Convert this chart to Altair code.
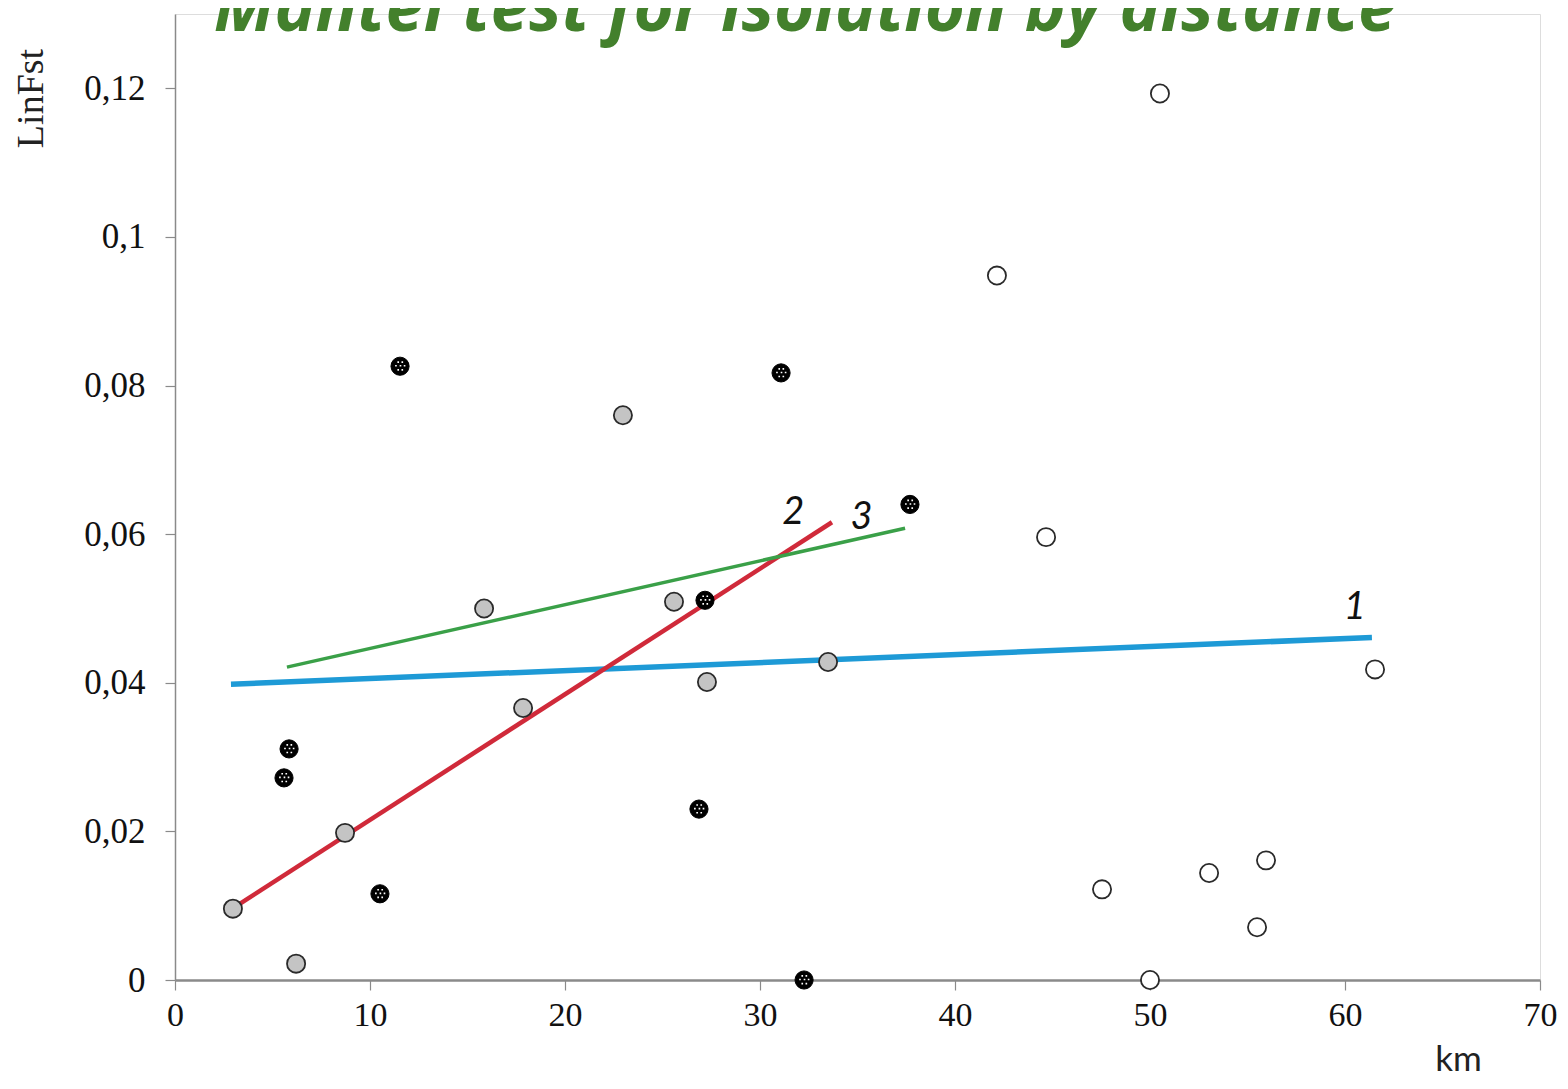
import altair as alt
import pandas as pd

# ---- data ----
black_x = [11.54, 31.08, 37.69, 27.18, 5.85, 5.59, 26.87, 10.51, 32.26]
black_y = [0.0826, 0.0817, 0.0640, 0.0511, 0.0311, 0.0272, 0.0230, 0.0116, 0.0]

gray_x = [2.97, 6.21, 8.72, 15.85, 17.85, 22.97, 25.59, 27.28, 33.49]
gray_y = [0.0096, 0.0022, 0.0198, 0.0500, 0.0366, 0.0760, 0.0509, 0.0401, 0.0428]

white_x = [50.51, 42.15, 44.67, 61.54, 47.54, 53.03, 55.95, 55.49, 50.0]
white_y = [0.1193, 0.0948, 0.0596, 0.0418, 0.0122, 0.0144, 0.0161, 0.0071, 0.0]

line_ids = ["1", "1", "2", "2", "3", "3"]
line_x = [2.87, 61.38, 2.82, 33.69, 5.74, 37.44]
line_y = [0.0398, 0.0461, 0.0094, 0.0616, 0.0421, 0.0608]

label_text = ["1", "2", "3"]
label_x = [60.5, 31.7, 35.2]
label_y = [0.0500, 0.0628, 0.0622]

y_ticks = [0, 0.02, 0.04, 0.06, 0.08, 0.1, 0.12]
x_ticks = [0, 10, 20, 30, 40, 50, 60, 70]

title_text = "Mantel test for isolation by distance"

# ---- tables ----
df_black = pd.DataFrame({"x": black_x, "y": black_y})
df_gray = pd.DataFrame({"x": gray_x, "y": gray_y})
df_white = pd.DataFrame({"x": white_x, "y": white_y})
df_lines = pd.DataFrame({"id": line_ids, "x": line_x, "y": line_y})
df_labels = pd.DataFrame({"t": label_text, "x": label_x, "y": label_y})

W, H = 1365, 966
PT_SIZE = 330

xs = alt.Scale(domain=[0, 70], nice=False, zero=False)
ys = alt.Scale(domain=[0, 0.13], nice=False, zero=False)

x_enc = alt.X(
    "x:Q", scale=xs,
    axis=alt.Axis(
        values=x_ticks, grid=False, title="km",
        domainColor="#8a8a8a", domainWidth=2.5, tickColor="#8a8a8a", tickSize=10, tickWidth=1.2,
        labelFont="Liberation Serif", labelFontSize=34, labelColor="#111", labelPadding=8,
        labelFlush=False,
        titleFont="Lato", titleFontSize=35, titleFontWeight="normal", titleColor="#222",
        titleX=1283, titleY=90, titleAlign="center", titleBaseline="alphabetic",
    ),
)
y_enc = alt.Y(
    "y:Q", scale=ys,
    axis=alt.Axis(
        values=y_ticks, grid=False, title="LinFst",
        labelExpr="replace(format(datum.value, '~g'), '.', ',')",
        domainColor="#8a8a8a", domainWidth=1.5, tickColor="#8a8a8a", tickSize=10, tickWidth=1.2,
        labelFont="Liberation Serif", labelFontSize=35, labelColor="#111", labelPadding=20,
        labelFlush=False,
        titleFont="Liberation Serif", titleFontSize=38, titleFontWeight="normal", titleColor="#222",
        titleX=-144, titleY=84, titleAlign="center", titleBaseline="middle", titleAngle=-90,
    ),
)

lines = alt.Chart(df_lines).mark_line(strokeCap="butt").encode(
    x=x_enc, y=y_enc, detail="id:N",
    color=alt.Color("id:N", scale=alt.Scale(domain=["1", "2", "3"],
                                            range=["#1e9ad6", "#d02a3a", "#3aa048"]), legend=None),
    strokeWidth=alt.StrokeWidth("id:N", scale=alt.Scale(domain=["1", "2", "3"], range=[5.5, 3.5, 3.5]),
                                legend=None),
)

white_pts = alt.Chart(df_white).mark_point(
    shape="circle", filled=True, fill="white", stroke="#2a2a2a", strokeWidth=1.8, size=PT_SIZE, opacity=1
).encode(x=x_enc, y=y_enc)

gray_pts = alt.Chart(df_gray).mark_point(
    shape="circle", filled=True, fill="#c4c4c4", stroke="#2a2a2a", strokeWidth=1.8, size=PT_SIZE, opacity=1
).encode(x=x_enc, y=y_enc)

black_pts = alt.Chart(df_black).mark_point(
    shape="circle", filled=True, fill="#000000", stroke="#000000", strokeWidth=1, size=PT_SIZE, opacity=1
).encode(x=x_enc, y=y_enc)

dot_centres = [(-0.2, -0.45), (0.25, -0.45), (-0.45, -0.05), (0.05, -0.05), (0.5, -0.05),
               (-0.2, 0.4), (0.25, 0.4)]
hs = 0.09
dot_path = " ".join(
    f"M {cx - hs:.2f} {cy - hs:.2f} L {cx + hs:.2f} {cy - hs:.2f} L {cx + hs:.2f} {cy + hs:.2f} L {cx - hs:.2f} {cy + hs:.2f} Z"
    for cx, cy in dot_centres
)
black_dots = alt.Chart(df_black).mark_point(
    shape=dot_path, filled=True, fill="white", strokeWidth=0, size=PT_SIZE, opacity=1
).encode(x=x_enc, y=y_enc)

labels = alt.Chart(df_labels).mark_text(
    font="Lato", fontStyle="italic", fontSize=38, color="#111", baseline="middle", align="center"
).encode(x=x_enc, y=y_enc, text="t:N")

title = alt.Chart(pd.DataFrame({"t": [title_text]})).mark_text(
    font="Open Sans", fontStyle="italic", fontWeight="bold", fontSize=69, color="#43802c",
    baseline="alphabetic", align="center"
).encode(x=alt.value(630), y=alt.value(17), text="t:N")

chart = alt.layer(lines, white_pts, gray_pts, black_pts, black_dots, labels, title).properties(
    width=W, height=H,
    autosize=alt.AutoSizeParams(type="none"),
    padding={"left": 167, "top": 6, "right": 20, "bottom": 100},
).configure_view(stroke=None).configure(background="white")

chart.save("out.html", embed_options={"renderer": "svg", "actions": False})
